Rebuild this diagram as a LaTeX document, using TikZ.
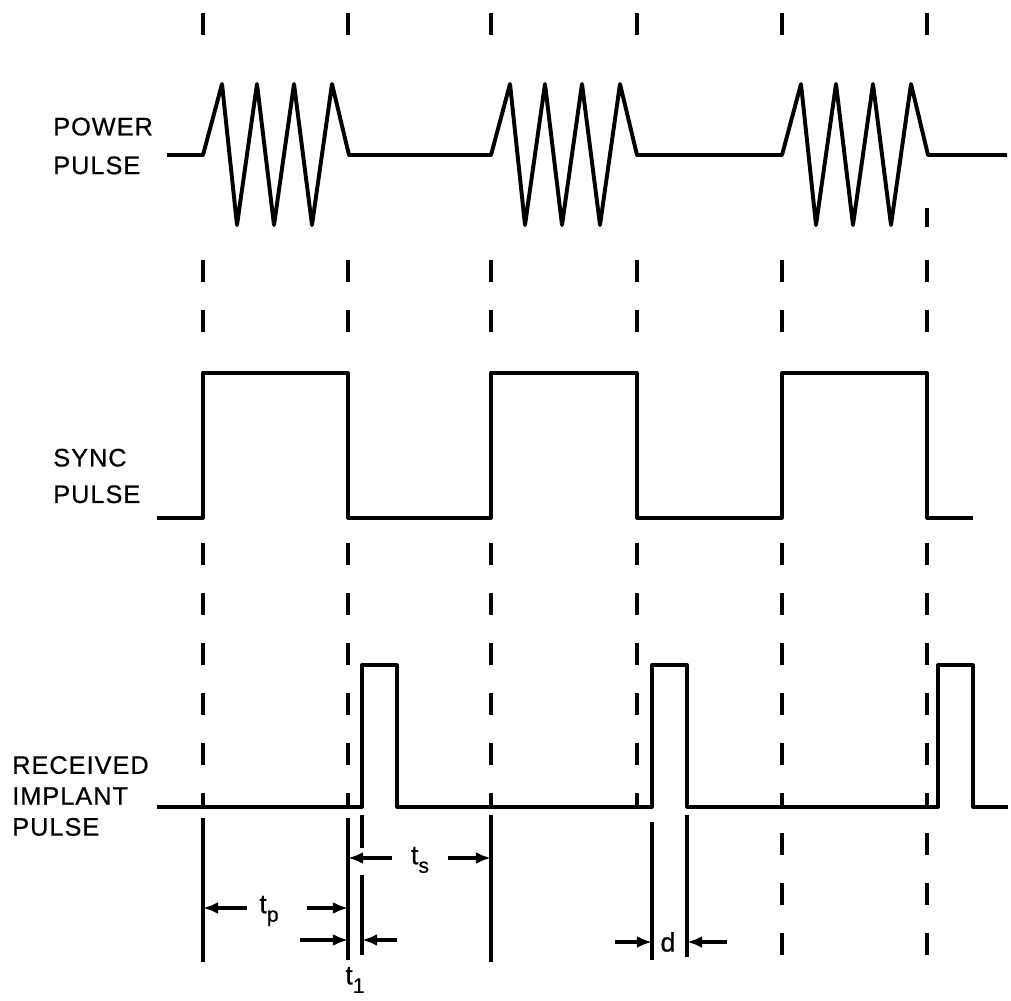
\documentclass[tikz,border=0pt]{standalone}
\usepackage{fontspec}
\setmainfont{Liberation Sans}
\newfontfamily\labelfont[LetterSpace=4,FakeBold=0.6]{Liberation Sans}
\newcommand{\tsub}[1]{t\raisebox{-0.32em}{\fontsize{15}{15}\selectfont #1}}
\usetikzlibrary{arrows.meta}

\begin{document}
\begin{tikzpicture}[x=0.25mm,y=-0.25mm,line join=round,
    wave/.style={line width=2.3pt},
    guide/.style={line width=2.5pt,dash pattern=on 5.5mm off 7mm},
    ruler/.style={line width=2.2pt},
    dim/.style={line width=2.2pt,-{Latex[length=3.8mm,width=3mm]}},
    lbl/.style={font=\labelfont\fontsize{18}{22}\selectfont,align=left,anchor=west,inner sep=0pt},
    sym/.style={font=\labelfont\fontsize{19}{22}\selectfont,inner sep=0pt}]
    \useasboundingbox (0,0) rectangle (1011,1001);

    \coordinate (S1) at (392,858);
    \coordinate (S2) at (348,858);
    \coordinate (S3) at (448,858);
    \coordinate (S4) at (491,858);
    \coordinate (P1) at (247,908);
    \coordinate (P2) at (203,908);
    \coordinate (P3) at (307,908);
    \coordinate (P4) at (348,908);
    \coordinate (T1) at (300,940);
    \coordinate (T2) at (348,940);
    \coordinate (T3) at (397,940);
    \coordinate (T4) at (362,940);
    \coordinate (D1) at (615,942);
    \coordinate (D2) at (652,942);
    \coordinate (D3) at (727,942);
    \coordinate (D4) at (687,942);

    % timing marks
    \foreach \c in {203,348,491,637,782,927} {
        \draw[guide] (\c,13) -- (\c,36);
        \draw[guide] (\c,260) -- (\c,335);
        \draw[guide] (\c,543) -- (\c,807);
    }
    \draw[guide] (927,208) -- (927,227);
    \draw[guide] (782,833) -- (782,960);
    \draw[guide] (927,833) -- (927,960);

    % power pulse
    \draw[wave,line width=2.8pt] (167,155)
        \foreach \s in {203,491,782} {
            -- (\s,155) -- (\s+19,84) -- (\s+34,225) -- (\s+54,84) -- (\s+71,225)
            -- (\s+91,84) -- (\s+109,225) -- (\s+129,84) -- (\s+146,155)
        } -- (1007,155);

    % sync pulse
    \draw[wave] (157,518) -- (203,518) -- (203,373) -- (348,373) -- (348,518)
        -- (491,518) -- (491,373) -- (637,373) -- (637,518) -- (782,518)
        -- (782,373) -- (927,373) -- (927,518) -- (973,518);

    % received implant pulse
    \draw[wave] (157,807) -- (362,807) -- (362,665) -- (397,665) -- (397,807)
        -- (652,807) -- (652,665) -- (687,665) -- (687,807) -- (938,807)
        -- (938,665) -- (973,665) -- (973,807) -- (1008,807);

    % bottom
    \draw[ruler] (203,818) -- (203,962);
    \draw[ruler] (348,818) -- (348,960);
    \draw[ruler] (362,815) -- (362,848);
    \draw[ruler] (362,875) -- (362,955);
    \draw[ruler] (491,815) -- (491,962);
    \draw[ruler] (652,822) -- (652,960);
    \draw[ruler] (687,815) -- (687,957);

    \node[lbl] (power) at (53,146) {POWER\\[5.6pt]PULSE};
    \node[lbl] (sync) at (53,476) {SYNC\\[4pt]PULSE};
    \node[lbl] (recv) at (12,796) {RECEIVED\\IMPLANT\\PULSE};

    \node[sym] (ts) at (420,860) {\tsub{s}};
    \node[sym] (tp) at (269,911) {\tsub{p}};
    \node[sym] (t1) at (355,980) {\tsub{1}};
    \node[sym] (d) at (668,942) {d};

    \draw[dim] (S1) -- (S2);
    \draw[dim] (S3) -- (S4);
    \draw[dim] (P1) -- (P2);
    \draw[dim] (P3) -- (P4);
    \draw[dim] (T1) -- (T2);
    \draw[dim] (T3) -- (T4);
    \draw[dim] (D1) -- (D2);
    \draw[dim] (D3) -- (D4);
\end{tikzpicture}
\end{document}
